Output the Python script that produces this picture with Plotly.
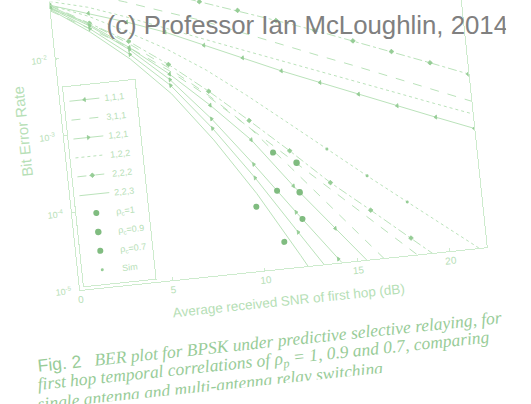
import plotly.graph_objects as go

# ---------------- data ----------------
snr = [0, 2, 4, 6, 8, 10, 12, 14, 16, 18, 20, 22]

ber_a1 = [1.48e-1, 1.07e-1, 7.6e-2, 5.2e-2, 3.5e-2, 2.4e-2, 1.58e-2, 1.05e-2, 6.8e-3, 4.4e-3, 2.8e-3, 1.78e-3]
ber_a2 = [8.9e-2, 6.3e-2, 4.4e-2, 2.95e-2, 2.0e-2, 1.26e-2, 7.9e-3, 5.0e-3, 3.2e-3, 2.0e-3, 1.26e-3, 7.9e-4]
ber_a3 = [5.6e-2, 4.2e-2, 2.8e-2, 1.78e-2, 1.15e-2, 7.4e-3, 4.8e-3, 3.1e-3, 2.0e-3, 1.29e-3, 8.3e-4, 5.4e-4]
ber_a4 = [5.0e-2, 3.5e-2, 2.4e-2, 1.58e-2, 9.5e-3, 5.8e-3, 3.5e-3, 2.2e-3, 1.38e-3, 8.7e-4, 5.5e-4, 3.5e-4]
ber_b1 = [5.0e-2, 3.2e-2, 1.78e-2, 9.5e-3, 4.5e-3, 1.9e-3, 7.6e-4, 3.0e-4, 1.2e-4, 4.9e-5, 2.0e-5, 8.3e-6]
ber_b2 = [4.5e-2, 2.6e-2, 1.35e-2, 6.0e-3, 2.4e-3, 8.9e-4, 3.2e-4, 1.1e-4, 4.3e-5, 1.66e-5, 6.3e-6]
ber_b3 = [4.2e-2, 2.2e-2, 1.12e-2, 5.0e-3, 2.0e-3, 7.1e-4, 2.5e-4, 8.9e-5, 3.2e-5, 1.12e-5, 4.0e-6]
ber_c1 = [4.4e-2, 2.0e-2, 7.9e-3, 2.5e-3, 5.6e-4, 1.0e-4, 1.4e-5, 1.8e-6]
ber_c2 = [4.6e-2, 2.2e-2, 9.1e-3, 3.2e-3, 7.9e-4, 1.6e-4, 2.8e-5, 5.0e-6]
ber_c3 = [4.7e-2, 2.4e-2, 1.05e-2, 3.8e-3, 1.05e-3, 2.4e-4, 5.1e-5, 1.12e-5, 2.5e-6]
ber_c4 = [4.9e-2, 2.5e-2, 1.12e-2, 4.5e-3, 1.58e-3, 5.0e-4, 1.12e-4, 2.8e-5, 7.1e-6]
ber_c5 = [5.0e-2, 2.6e-2, 1.26e-2, 5.4e-3, 2.1e-3, 7.1e-4, 1.9e-4, 5.0e-5, 1.32e-5, 3.5e-6]

rho1_snr = [11.1, 11.1]
rho1_ber = [3.2e-4, 1.02e-4]
rho09_snr = [12.3, 12.3]
rho09_ber = [2.2e-4, 9.1e-5]
rho07_snr = [12.3, 11.2, 9.9]
rho07_ber = [4.1e-5, 2.2e-5, 6.8e-5]
sim_snr = [14, 16, 18]
sim_ber = [3.0e-4, 1.2e-4, 4.9e-5]

legend_names = ["1,1,1", "3,1,1", "1,2,1", "1,2,2", "2,2,2", "2,2,3"]
marker_names = ["ρ<sub>c</sub>=1", "ρ<sub>c</sub>=0.9", "ρ<sub>c</sub>=0.7", "Sim"]

x_ticks = [0, 5, 10, 15, 20]
y_ticks = [1e-5, 1e-4, 1e-3, 1e-2, 1e-1]
y_ticktext = ["10<sup>-5</sup>", "10<sup>-4</sup>", "10<sup>-3</sup>", "10<sup>-2</sup>", "10<sup>-1</sup>"]

# ---------------- styling ----------------
LINE = "rgb(182,224,182)"
MARK = "rgb(150,205,150)"
DOT = "rgb(128,188,128)"
TXT = "rgb(182,224,182)"
FRAME = "rgb(205,235,205)"
CAP = "rgb(152,204,152)"

styles = {
    "1,1,1": dict(dash="solid", marker="triangle-left", mode="lines+markers"),
    "3,1,1": dict(dash="dash", marker="x-thin", mode="lines"),
    "1,2,1": dict(dash="solid", marker="triangle-right", mode="lines+markers"),
    "1,2,2": dict(dash="dot", marker="circle", mode="lines"),
    "2,2,2": dict(dash="dashdot", marker="diamond", mode="lines+markers"),
    "2,2,3": dict(dash="solid", marker="circle", mode="lines"),
}

series = [
    ("2,2,2", ber_a1), ("3,1,1", ber_a2), ("1,2,2", ber_a3), ("1,1,1", ber_a4),
    ("1,2,2", ber_b1), ("2,2,2", ber_b2), ("3,1,1", ber_b3),
    ("2,2,3", ber_c1), ("1,2,1", ber_c2), ("1,2,1", ber_c3), ("1,1,1", ber_c4),
    ("3,1,1", ber_c5),
]

fig = go.Figure()
shown = set()
for name, ys in series:
    st = styles[name]
    fig.add_trace(go.Scatter(
        x=snr[:len(ys)], y=ys, name=name, legendgroup=name,
        showlegend=name not in shown,
        legendrank=100 + legend_names.index(name),
        mode=st["mode"],
        line=dict(color=LINE, width=0.9, dash=st["dash"]),
        marker=dict(symbol=st["marker"], size=3.5, color=MARK,
                    line=dict(color=MARK, width=0.8)),
    ))
    shown.add(name)

for i, (xs, ys, sz, sym) in enumerate([
    (rho1_snr, rho1_ber, 6, "circle"),
    (rho09_snr, rho09_ber, 6.5, "circle"),
    (rho07_snr, rho07_ber, 6, "circle"),
    (sim_snr, sim_ber, 3, "circle"),
]):
    fig.add_trace(go.Scatter(
        x=xs, y=ys, name=marker_names[i], mode="markers",
        legendrank=200 + i,
        marker=dict(symbol=sym, size=sz, color=DOT if i < 3 else MARK),
    ))

W, H = 531, 404
ML, MB, MT, MR = 80, 114, 0, 42
fig.update_layout(
    width=W, height=H,
    margin=dict(l=ML, r=MR, t=MT, b=MB),
    paper_bgcolor="white", plot_bgcolor="white",
    font=dict(family="Liberation Sans, Arial, sans-serif", color=TXT, size=10),
    showlegend=True,
    legend=dict(x=0.008, y=0.008, xanchor="left", yanchor="bottom",
                bgcolor="white", bordercolor=FRAME, borderwidth=1,
                font=dict(size=9, color=TXT), tracegroupgap=0,
                itemwidth=30),
    xaxis=dict(range=[0, 22], tickvals=x_ticks, showgrid=False, zeroline=False,
               showline=True, mirror=True, linecolor=FRAME, linewidth=1,
               ticks="inside", ticklen=3, tickcolor=FRAME,
               tickfont=dict(size=10, color=TXT)),
    yaxis=dict(type="log", range=[-5, -1.253], tickvals=y_ticks, ticktext=y_ticktext,
               showgrid=False, zeroline=False,
               showline=True, mirror=True, linecolor=FRAME, linewidth=1,
               ticks="inside", ticklen=3, tickcolor=FRAME,
               tickfont=dict(size=9, color=TXT), ticklabelstandoff=6),
    annotations=[
        dict(text="Average received SNR of first hop (dB)", xref="paper", yref="paper",
             x=0.505, y=-0.112, xanchor="center", yanchor="middle", showarrow=False,
             font=dict(size=13.5, color=TXT)),
        dict(text="Bit Error Rate", xref="paper", yref="paper", textangle=-90,
             x=-0.098, y=0.566, xanchor="center", yanchor="middle", showarrow=False,
             font=dict(size=15, color=TXT)),
        dict(text="<span style='font-family:Liberation Sans'>Fig. 2</span>   <i>BER plot for BPSK under predictive selective relaying, for</i>",
             xref="paper", yref="paper", x=-0.128, y=-0.246, xanchor="left", yanchor="middle",
             showarrow=False, font=dict(family="Liberation Serif, serif", size=17.5, color=CAP)),
        dict(text="<i>first hop temporal correlations of ρ<sub>p</sub> = 1, 0.9 and 0.7, comparing</i>",
             xref="paper", yref="paper", x=-0.133, y=-0.313, xanchor="left", yanchor="middle",
             showarrow=False, font=dict(family="Liberation Serif, serif", size=17.5, color=CAP)),
        dict(text="<i>single antenna and multi-antenna relay switching</i>",
             xref="paper", yref="paper", x=-0.138, y=-0.376, xanchor="left", yanchor="middle",
             showarrow=False, font=dict(family="Liberation Serif, serif", size=17.5, color=CAP)),
        dict(text="(c) Professor Ian McLoughlin, 2014", xref="paper", yref="paper",
             x=0.622, y=0.826, xanchor="center", yanchor="middle", textangle=6,
             showarrow=False, font=dict(family="Liberation Sans, Arial, sans-serif",
                                        size=25.8, color="rgb(128,128,128)")),
    ],
)

post = """
document.documentElement.style.overflow='hidden';
document.body.style.margin='0';
document.body.style.overflow='hidden';
var gd=document.getElementById('{plot_id}');
gd.style.transformOrigin='80px 290px';
gd.style.transform='rotate(-6deg)';
"""
fig.write_html("out.html", post_script=post)
